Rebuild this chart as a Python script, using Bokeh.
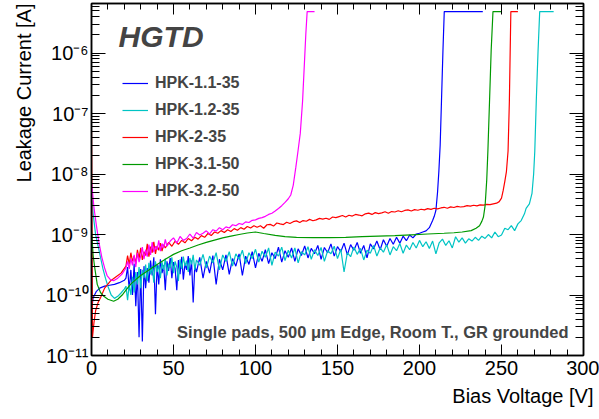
from bokeh.plotting import figure
from bokeh.models import (Range1d, FixedTicker, LinearAxis, LogAxis, Label,
                          Legend, LegendItem, Title)
from bokeh.embed import file_html
from bokeh.resources import INLINE

# ---------------- data (bias voltage [V], leakage current [A]) ----------------
hpk_1_1_35 = [
    (0, 5.5e-11), (1, 9.0e-11), (3, 1.15e-10), (5, 1.3e-10), (8, 1.4e-10), (11, 1.45e-10),
    (14, 1.5e-10), (17, 1.6e-10), (20, 1.75e-10), (21, 1.9e-10), (22, 2.9e-10), (23, 1.2e-10),
    (24, 2.6e-10), (25, 1.0e-10), (26, 3.3e-10), (27, 6.5e-11), (28, 2.4e-10), (29, 2.0e-11),
    (30, 2.7e-10), (31, 1.7e-11), (32, 3.0e-10), (33, 1.3e-10), (34, 2.8e-10), (35, 1.6e-10),
    (36, 3.7e-10), (37, 2.1e-10), (38, 4.2e-10), (39, 4.8e-11), (40, 3.2e-10), (41, 1.5e-10),
    (42, 3.9e-10), (43, 2.3e-10), (44, 3.1e-10), (45, 1.2e-10), (46, 3.6e-10), (47, 2.5e-10),
    (48, 4.1e-10), (49, 1.9e-10), (50, 3.5e-10), (51, 2.7e-10), (52, 1.2e-10), (53, 3.8e-10),
    (54, 2.2e-10), (55, 4.3e-10), (56, 1.8e-10), (57, 3.3e-10), (58, 2.6e-10), (59, 4.4e-10),
    (60, 2.1e-10), (61, 3.7e-10), (62, 7.5e-11), (63, 3.1e-10), (64, 2.4e-10), (66, 4.2e-10),
    (68, 1.9e-10), (70, 3.6e-10), (72, 2.3e-10), (74, 4.5e-10), (76, 1.5e-10), (78, 3.9e-10),
    (80, 2.6e-10), (82, 4.6e-10), (84, 2.2e-10), (86, 4.0e-10), (88, 3.0e-10), (90, 4.8e-10),
    (92, 2.1e-10), (94, 4.4e-10), (96, 3.2e-10), (98, 5.2e-10), (100, 2.8e-10), (102, 4.9e-10),
    (104, 3.6e-10), (106, 5.6e-10), (108, 3.3e-10), (110, 5.0e-10), (112, 4.0e-10), (114, 6.2e-10),
    (116, 3.5e-10), (118, 5.4e-10), (120, 4.2e-10), (122, 6.0e-10), (124, 3.6e-10), (126, 5.8e-10),
    (128, 4.5e-10), (130, 6.5e-10), (132, 4.1e-10), (134, 5.9e-10), (136, 4.8e-10), (138, 6.6e-10),
    (140, 3.9e-10), (142, 6.1e-10), (144, 5.0e-10), (146, 7.0e-10), (148, 4.4e-10), (150, 6.3e-10),
    (152, 5.2e-10), (154, 7.2e-10), (156, 4.6e-10), (158, 6.8e-10), (160, 5.5e-10), (162, 7.4e-10),
    (164, 4.9e-10), (166, 6.6e-10), (168, 4.1e-10), (170, 7.0e-10), (172, 5.8e-10), (174, 7.8e-10),
    (176, 5.6e-10), (178, 8.2e-10), (180, 6.4e-10), (182, 8.6e-10), (184, 6.9e-10), (186, 9.0e-10),
    (188, 7.2e-10), (190, 9.4e-10), (192, 7.9e-10), (194, 9.8e-10), (196, 8.8e-10), (198, 1.02e-9),
    (200, 1.05e-9), (202, 1.1e-9), (204, 1.15e-9), (206, 1.3e-9), (208, 1.7e-9), (209, 2.0e-9),
    (210, 2.5e-9), (211, 5.0e-9), (211.8, 1.1e-8), (212.6, 3.0e-8), (213.4, 1.6e-7),
    (214.3, 1.1e-6), (215.1, 4.85e-6), (238.6, 4.85e-6),
]

hpk_1_2_35 = [
    (0, 6.0e-9), (1, 2.2e-9), (2.5, 1.0e-9), (4, 6.5e-10), (5.5, 4.2e-10), (7, 2.7e-10),
    (8.5, 1.9e-10), (10, 1.4e-10), (12, 1.0e-10), (14, 8.8e-11), (16, 9.5e-11), (18, 1.08e-10),
    (20, 1.25e-10), (21, 1.4e-10), (22, 8.2e-11), (23, 1.5e-10), (24, 1.0e-10), (25, 2.0e-10),
    (26, 1.1e-10), (27, 2.4e-10), (28, 1.5e-10), (29, 2.9e-10), (30, 1.3e-10), (31, 2.6e-10),
    (32, 1.9e-10), (33, 3.2e-10), (34, 1.7e-10), (35, 3.4e-10), (36, 2.2e-10), (37, 3.0e-10),
    (38, 1.6e-10), (39, 3.6e-10), (40, 2.4e-10), (41, 3.1e-10), (42, 1.9e-10), (43, 3.5e-10),
    (44, 2.6e-10), (45, 4.0e-10), (46, 2.1e-10), (47, 3.3e-10), (48, 2.8e-10), (49, 4.2e-10),
    (50, 2.3e-10), (51, 3.6e-10), (52, 2.9e-10), (53, 1.7e-10), (54, 3.9e-10), (55, 2.7e-10),
    (56, 4.3e-10), (57, 3.0e-10), (58, 3.7e-10), (59, 2.4e-10), (60, 4.1e-10), (61, 3.2e-10),
    (62, 4.6e-10), (63, 2.6e-10), (64, 3.8e-10), (66, 3.1e-10), (68, 4.7e-10), (70, 2.8e-10),
    (72, 4.4e-10), (74, 3.4e-10), (76, 5.0e-10), (78, 2.6e-10), (80, 4.6e-10), (82, 3.6e-10),
    (84, 5.2e-10), (86, 3.0e-10), (88, 4.8e-10), (90, 3.9e-10), (92, 5.5e-10), (94, 3.3e-10),
    (96, 5.0e-10), (98, 4.0e-10), (100, 5.7e-10), (102, 3.5e-10), (104, 5.3e-10), (106, 4.2e-10),
    (108, 6.0e-10), (110, 3.1e-10), (112, 5.1e-10), (114, 4.4e-10), (116, 6.2e-10), (118, 3.7e-10),
    (120, 5.5e-10), (122, 4.1e-10), (124, 6.0e-10), (126, 3.4e-10), (128, 5.2e-10), (130, 4.6e-10),
    (132, 6.3e-10), (134, 3.9e-10), (136, 5.6e-10), (138, 4.5e-10), (140, 6.1e-10), (142, 3.6e-10),
    (144, 5.4e-10), (146, 4.8e-10), (148, 6.4e-10), (150, 4.0e-10), (152, 5.7e-10), (154, 2.4e-10),
    (156, 5.0e-10), (158, 4.3e-10), (160, 6.2e-10), (162, 4.7e-10), (164, 5.9e-10), (166, 3.8e-10),
    (168, 5.5e-10), (170, 4.9e-10), (172, 6.6e-10), (174, 4.4e-10), (176, 6.0e-10), (178, 5.1e-10),
    (180, 6.8e-10), (182, 4.6e-10), (184, 6.3e-10), (186, 5.4e-10), (188, 7.1e-10), (190, 4.9e-10),
    (192, 6.7e-10), (194, 5.6e-10), (196, 7.4e-10), (198, 6.0e-10), (200, 8.0e-10), (202, 6.3e-10),
    (204, 7.6e-10), (206, 5.9e-10), (208, 7.8e-10), (210, 4.8e-10), (212, 7.3e-10), (214, 8.4e-10),
    (216, 6.6e-10), (218, 7.9e-10), (220, 6.0e-10), (222, 9.2e-10), (224, 7.5e-10), (226, 8.8e-10),
    (228, 7.2e-10), (230, 8.5e-10), (232, 7.8e-10), (234, 9.0e-10), (236, 8.0e-10), (238, 9.4e-10),
    (240, 8.6e-10), (242, 1.0e-9), (244, 8.8e-10), (246, 1.1e-9), (248, 9.2e-10), (250, 9.8e-10),
    (252, 1.27e-9), (254, 1.2e-9), (256, 1.4e-9), (258, 1.16e-9), (260, 1.5e-9), (262, 1.7e-9),
    (264, 2.2e-9), (265, 2.7e-9), (267, 3.2e-9), (268.6, 4.8e-9), (269.6, 1.0e-8), (270.3, 2.4e-8),
    (271.2, 1.6e-7), (272.3, 1.1e-6), (273.3, 4.85e-6), (281.8, 4.85e-6),
]

hpk_2_35 = [
    (0, 5.2e-8), (0.6, 2.0e-11), (1.5, 3.5e-11), (2.5, 5.5e-11), (4, 7.5e-11), (5.5, 9.0e-11),
    (8, 1.3e-10), (11.5, 1.7e-10), (15, 2.0e-10), (18, 2.3e-10), (21, 3.0e-10), (22, 4.5e-10),
    (23, 3.2e-10), (24, 5.0e-10), (25, 3.6e-10), (26, 4.4e-10), (27, 3.3e-10), (28, 5.6e-10),
    (29, 4.0e-10), (30, 6.0e-10), (31, 3.8e-10), (32, 5.2e-10), (33, 4.5e-10), (34, 7.0e-10),
    (35, 4.3e-10), (36, 6.3e-10), (37, 5.0e-10), (38, 7.6e-10), (39, 4.8e-10), (40, 6.5e-10),
    (41, 5.5e-10), (42, 7.2e-10), (43, 5.3e-10), (44, 6.8e-10), (45, 6.0e-10), (47, 7.4e-10),
    (49, 6.4e-10), (51, 7.8e-10), (53, 6.9e-10), (55, 8.0e-10), (57, 7.3e-10), (59, 8.6e-10),
    (61, 7.9e-10), (63, 9.0e-10), (65, 8.4e-10), (67, 9.6e-10), (69, 9.0e-10), (71, 1.04e-9),
    (73, 9.6e-10), (75, 1.1e-9), (77, 1.05e-9), (79, 1.16e-9), (81, 1.08e-9), (83, 1.2e-9),
    (85, 1.12e-9), (87, 1.25e-9), (89, 1.18e-9), (91, 1.3e-9), (93, 1.22e-9), (95, 1.36e-9),
    (97, 1.28e-9), (99, 1.4e-9), (101, 1.32e-9), (103, 1.4e-9), (105, 1.27e-9), (107, 1.45e-9),
    (109, 1.47e-9), (111, 1.38e-9), (113, 1.55e-9), (115, 1.5e-9), (117, 1.46e-9), (119, 1.6e-9),
    (121, 1.52e-9), (123, 1.63e-9), (125, 1.68e-9), (127, 1.58e-9), (129, 1.7e-9), (131, 1.66e-9),
    (133, 1.78e-9), (135, 1.69e-9), (137, 1.75e-9), (139, 1.85e-9), (141, 1.8e-9), (143, 1.86e-9),
    (145, 1.78e-9), (147, 1.95e-9), (149, 1.9e-9), (151, 1.98e-9), (153, 2.06e-9), (155, 1.95e-9),
    (157, 2.08e-9), (159, 2.02e-9), (161, 2.15e-9), (163, 2.1e-9), (165, 2.04e-9), (167, 2.2e-9),
    (169, 2.26e-9), (171, 2.15e-9), (173, 2.3e-9), (175, 2.22e-9), (177, 2.28e-9), (179, 2.38e-9),
    (181, 2.25e-9), (183, 2.4e-9), (185, 2.36e-9), (187, 2.47e-9), (189, 2.38e-9), (191, 2.5e-9),
    (193, 2.55e-9), (195, 2.45e-9), (197, 2.58e-9), (199, 2.52e-9), (201, 2.62e-9), (203, 2.56e-9),
    (205, 2.68e-9), (207, 2.6e-9), (209, 2.72e-9), (211, 2.66e-9), (213, 2.75e-9), (215, 2.82e-9),
    (217, 2.72e-9), (219, 2.86e-9), (221, 2.8e-9), (223, 2.92e-9), (225, 2.85e-9), (227, 2.9e-9),
    (229, 3.0e-9), (231, 2.94e-9), (233, 3.05e-9), (235, 2.98e-9), (237, 3.1e-9), (239, 3.06e-9),
    (241, 3.15e-9), (243, 3.12e-9), (245, 3.22e-9), (247, 3.3e-9), (248.6, 3.5e-9), (250, 4.0e-9),
    (251, 5.3e-9), (252, 7.5e-9), (253, 1.1e-8), (254, 2.4e-8), (254.8, 1.6e-7), (255.3, 1.1e-6),
    (255.7, 4.85e-6), (260, 4.85e-6),
]

hpk_3_1_50 = [
    (0, 1.2e-9), (1, 4.5e-10), (2, 2.8e-10), (3.5, 1.5e-10), (5.5, 1.1e-10), (7.5, 9.5e-11),
    (10, 8.5e-11), (13.5, 7.9e-11), (16, 8.5e-11), (18.7, 1.0e-10), (21, 1.2e-10), (23.8, 1.5e-10),
    (27, 1.8e-10), (30, 2.1e-10), (35, 2.6e-10), (40, 3.2e-10), (45, 3.9e-10), (50, 4.7e-10),
    (55, 5.4e-10), (60, 6.0e-10), (65, 6.7e-10), (70, 7.4e-10), (75, 8.1e-10), (80, 8.8e-10),
    (85, 9.4e-10), (90, 1.0e-9), (95, 1.06e-9), (100, 1.1e-9), (105, 1.04e-9), (112, 9.7e-10),
    (118, 9.2e-10), (125, 9.0e-10), (135, 8.9e-10), (145, 8.9e-10), (155, 9.0e-10), (165, 9.2e-10),
    (175, 9.4e-10), (185, 9.6e-10), (195, 9.9e-10), (205, 1.02e-9), (215, 1.05e-9), (221, 1.07e-9),
    (226, 1.1e-9), (231.5, 1.16e-9), (234.5, 1.27e-9), (236.6, 1.4e-9), (238, 1.65e-9),
    (239, 1.95e-9), (240, 3.0e-9), (241, 8.0e-9), (241.7, 2.4e-8), (242.7, 1.6e-7),
    (243.7, 1.1e-6), (244.8, 4.85e-6), (250, 4.85e-6),
]

hpk_3_2_50 = [
    (0, 7.5e-9), (1.5, 2.8e-9), (3, 1.4e-9), (4.5, 7.5e-10), (6.3, 4.2e-10), (8, 2.8e-10),
    (9.5, 2.1e-10), (11.5, 1.8e-10), (13.5, 1.72e-10), (16, 1.9e-10), (18.5, 2.2e-10), (21, 2.8e-10),
    (22, 3.6e-10), (23, 2.7e-10), (24, 4.0e-10), (25, 3.1e-10), (26, 4.6e-10), (27, 2.9e-10),
    (28, 5.0e-10), (29, 3.5e-10), (30, 4.4e-10), (31, 6.2e-10), (32, 3.9e-10), (33, 5.6e-10),
    (34, 4.3e-10), (35, 6.8e-10), (36, 4.6e-10), (37, 7.5e-10), (38, 5.1e-10), (39, 6.4e-10),
    (40, 5.6e-10), (41, 8.0e-10), (42, 5.3e-10), (43, 7.1e-10), (44, 6.0e-10), (45, 8.3e-10),
    (46, 6.4e-10), (48, 7.8e-10), (50, 8.8e-10), (52, 7.2e-10), (54, 9.3e-10), (56, 8.0e-10),
    (58, 8.6e-10), (60, 1.02e-9), (62, 8.7e-10), (64, 1.08e-9), (66, 9.8e-10), (68, 1.05e-9),
    (70, 1.15e-9), (72, 1.02e-9), (74, 1.2e-9), (76, 1.14e-9), (78, 1.3e-9), (80, 1.2e-9),
    (82, 1.34e-9), (84, 1.28e-9), (86, 1.45e-9), (88, 1.4e-9), (90, 1.52e-9), (92, 1.47e-9),
    (94, 1.62e-9), (96, 1.58e-9), (98, 1.72e-9), (100, 1.75e-9), (102, 1.85e-9), (104, 1.9e-9),
    (106, 2.0e-9), (108, 2.15e-9), (110, 2.25e-9), (112, 2.45e-9), (114, 2.7e-9), (116, 3.0e-9),
    (118, 3.4e-9), (120, 3.9e-9), (121.5, 4.5e-9), (123, 6.5e-9), (124.6, 1.3e-8), (126, 2.5e-8),
    (127.3, 4.7e-8), (128.7, 1.6e-7), (129.7, 5.8e-7), (130.7, 2.1e-6), (131.5, 4.85e-6),
    (136, 4.85e-6),
]

series_names = ["HPK-1.1-35", "HPK-1.2-35", "HPK-2-35", "HPK-3.1-50", "HPK-3.2-50"]
series_data = [hpk_1_1_35, hpk_1_2_35, hpk_2_35, hpk_3_1_50, hpk_3_2_50]
series_colors = ["#0000ff", "#00c4c4", "#ff0000", "#009900", "#ff00ff"]

x_ticks = [0, 50, 100, 150, 200, 250, 300]
x_minor_ticks = [v for v in range(0, 301, 10) if v % 50]
y_ticks = [1e-11, 1e-10, 1e-9, 1e-8, 1e-7, 1e-6]
y_tick_labels = ["10⁻¹¹", "10⁻¹⁰", "10⁻⁹", "10⁻⁸", "10⁻⁷", "10⁻⁶"]
y_minor_ticks = [m * 10.0 ** e for e in range(-11, -5) for m in range(2, 10)]

x_title = "Bias Voltage [V]"
y_title = "Leakage Current [A]"

FONT = "Liberation Sans"

p = figure(width=599, height=419, x_range=Range1d(0, 300),
           y_range=Range1d(1e-11, 6.6e-6), y_axis_type="log",
           output_backend="svg", toolbar_location=None,
           min_border_left=91, min_border_right=16, min_border_top=3,
           min_border_bottom=64)
p.xgrid.visible = False
p.ygrid.visible = False
p.outline_line_color = "black"
p.outline_line_width = 1.5
p.background_fill_color = "white"
p.border_fill_color = "white"


def style_common(ax, tick_in, minor_in):
    ax.major_tick_in = tick_in
    ax.major_tick_out = 0
    ax.minor_tick_in = minor_in
    ax.minor_tick_out = 0
    ax.axis_line_color = "black"
    ax.axis_line_width = 1.5
    ax.major_tick_line_color = "black"
    ax.minor_tick_line_color = "black"
    ax.major_label_text_font = FONT
    ax.major_label_text_color = "black"


bottom_ax = p.xaxis[0]
bottom_ax.ticker = FixedTicker(ticks=x_ticks, minor_ticks=x_minor_ticks)
style_common(bottom_ax, 11, 6)
bottom_ax.major_label_text_font_size = "20px"
bottom_ax.major_label_standoff = 5

left_ax = p.yaxis[0]
left_ax.ticker = FixedTicker(ticks=y_ticks, minor_ticks=y_minor_ticks)
style_common(left_ax, 14, 8)
left_ax.major_label_text_font_size = "20px"
left_ax.major_label_standoff = 3
left_ax.major_label_overrides = {t: s for t, s in zip(y_ticks, y_tick_labels)}

top_ax = LinearAxis(ticker=FixedTicker(ticks=x_ticks, minor_ticks=x_minor_ticks))
style_common(top_ax, 11, 6)
top_ax.major_label_text_font_size = "1px"
top_ax.major_label_standoff = 0
top_ax.major_label_overrides = {t: "" for t in x_ticks}
p.add_layout(top_ax, "above")

right_ax = LogAxis(ticker=FixedTicker(ticks=y_ticks, minor_ticks=y_minor_ticks))
style_common(right_ax, 14, 8)
right_ax.major_label_text_font_size = "1px"
right_ax.major_label_standoff = 0
right_ax.major_label_overrides = {t: "" for t in y_ticks}
p.add_layout(right_ax, "right")

# axis titles as side-panel titles, aligned to the far end of each axis (ROOT style)
p.add_layout(Title(text=x_title, align="right", vertical_align="top", text_font=FONT,
                   text_font_size="20px", text_font_style="normal",
                   text_color="black", standoff=15, offset=-10), "below")
p.add_layout(Title(text=y_title, align="right", text_font=FONT,
                   text_font_size="20px", text_font_style="normal",
                   text_color="black", standoff=16), "left")

renderers = []
for name, data, color in zip(series_names, series_data, series_colors):
    xs = [d[0] for d in data]
    ys = [d[1] for d in data]
    r = p.line(xs, ys, line_color=color, line_width=1.2)
    renderers.append(r)

legend = Legend(items=[LegendItem(label=n, renderers=[r]) for n, r in zip(series_names, renderers)],
                location=(31, 154), padding=0, margin=0, spacing=7,
                glyph_width=26, glyph_height=20, label_height=20, label_standoff=7,
                label_text_font=FONT, label_text_font_style="bold",
                label_text_font_size="16px", border_line_color=None,
                background_fill_alpha=0)
p.add_layout(legend)

p.add_layout(Label(x=16.5, y=1.87e-6, text="HGTD", text_font=FONT,
                   text_font_style="bold italic", text_font_size="30px",
                   text_baseline="middle"))
p.add_layout(Label(x=290.9, y=2.49e-11, text="Single pads, 500 μm Edge, Room T., GR grounded",
                   text_font=FONT, text_font_style="bold", text_font_size="16.5px",
                   text_align="right", text_baseline="middle"))

open("out.html", "w").write(file_html(p, INLINE))
